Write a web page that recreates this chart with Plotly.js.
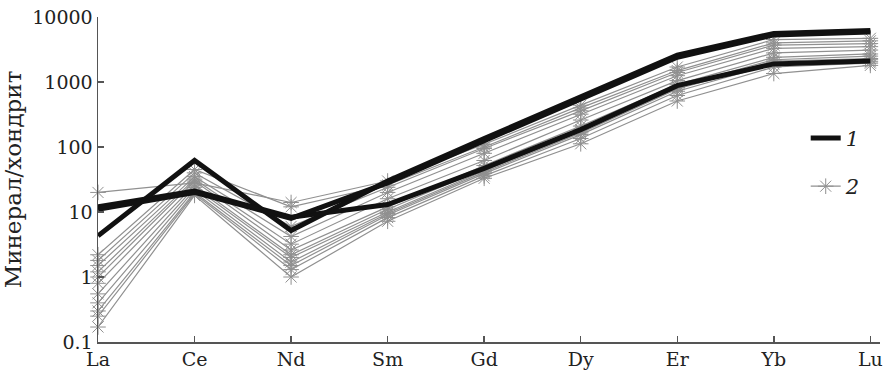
<!DOCTYPE html>
<html>
<head>
<meta charset="utf-8">
<script src="https://cdn.plot.ly/plotly-3.0.1.min.js"></script>
<style>html,body{margin:0;padding:0;background:#fff;}#chart{width:884px;height:378px;}</style>
</head>
<body>
<div id="chart"></div>
<script>
const elements = ["La","Ce","Nd","Sm","Gd","Dy","Er","Yb","Lu"];
const yTickVals = [0.1, 1, 10, 100, 1000, 10000];
const yTickText = ["0.1","1","10","100","1000","10000"];
const yTitle = "Минерал/хондрит";

// Series 1 (black, thick)
const s1_a = [4.3, 62, 5.2, 30, 135, 580, 2600, 5600, 6200];
const s1_b = [12, 21, 8.3, 13, 47, 185, 880, 1900, 2100];
const s1_c = [11, 20, 8, 28, 125, 540, 2400, 5300, 5900];

// Series 2 (gray, asterisk markers)
const s2_01 = [20, 28, 14, 30, 110, 440, 1700, 4500, 4700];
const s2_02 = [2.2, 45, 12, 26, 100, 400, 1500, 4000, 4300];
const s2_03 = [1.8, 40, 6, 24, 95, 360, 1400, 3700, 3900];
const s2_04 = [1.5, 35, 4.2, 20, 80, 320, 1250, 3300, 3500];
const s2_05 = [1.2, 32, 3.2, 16, 62, 260, 1050, 2800, 3100];
const s2_06 = [1.0, 30, 2.6, 12, 52, 210, 920, 2400, 2700];
const s2_07 = [0.8, 26, 2.2, 11, 46, 185, 860, 2200, 2500];
const s2_08 = [0.55, 24, 2.0, 10, 43, 175, 820, 2100, 2300];
const s2_09 = [0.4, 22, 1.7, 9.5, 41, 165, 780, 2000, 2200];
const s2_10 = [0.3, 20, 1.5, 9, 39, 155, 720, 1900, 2050];
const s2_11 = [0.25, 19, 1.3, 8.2, 36, 135, 620, 1700, 1950];
const s2_12 = [0.17, 18, 1.0, 7.2, 33, 112, 510, 1350, 1800];

const series1 = [s1_a, s1_b, s1_c];
const series2 = [s2_01,s2_02,s2_03,s2_04,s2_05,s2_06,s2_07,s2_08,s2_09,s2_10,s2_11,s2_12];

const SERIF = "DejaVu Serif";

const traces = [];
series2.forEach((ys, i) => {
  traces.push({
    x: elements, y: ys, type: "scatter", mode: "lines+markers",
    name: "2", legendgroup: "g2", showlegend: i === 0, legendrank: 2,
    line: {color: "#909090", width: 1.2},
    marker: {symbol: "asterisk-open", size: 13, color: "#909090", line: {color: "#909090", width: 1}},
    cliponaxis: false
  });
});
series1.forEach((ys, i) => {
  traces.push({
    x: elements, y: ys, type: "scatter", mode: "lines",
    name: "1", legendgroup: "g1", showlegend: i === 0, legendrank: 1,
    line: {color: "#111", width: 5},
    cliponaxis: false
  });
});

const layout = {
  width: 884, height: 378,
  margin: {l: 98, r: 4, t: 17, b: 36},
  paper_bgcolor: "#fff", plot_bgcolor: "#fff",
  font: {family: SERIF, size: 19, color: "#222"},
  showlegend: true,
  legend: {
    x: 0.905, y: 0.69, xanchor: "left", yanchor: "top",
    traceorder: "grouped", tracegroupgap: 18,
    font: {family: SERIF, size: 21, style: "italic", color: "#222"},
    bgcolor: "rgba(0,0,0,0)"
  },
  xaxis: {
    type: "category", categoryorder: "array", categoryarray: elements,
    range: [0, 8.1], showgrid: false, zeroline: false,
    showline: true, linecolor: "#555", linewidth: 1.5,
    ticks: "inside", ticklen: 6, tickcolor: "#555", tickwidth: 1.5,
    tickfont: {family: SERIF, size: 19, color: "#222"}
  },
  yaxis: {
    type: "log", range: [-1, 4], showgrid: false, zeroline: false,
    showline: true, linecolor: "#555", linewidth: 1.5,
    ticks: "inside", ticklen: 6, tickcolor: "#555", tickwidth: 1.5,
    tickvals: yTickVals, ticktext: yTickText,
    tickfont: {family: SERIF, size: 19, color: "#222"},
    title: {text: yTitle, font: {family: SERIF, size: 23, color: "#222"}, standoff: 8}
  }
};

Plotly.newPlot("chart", traces, layout, {staticPlot: true, displayModeBar: false});
</script>
</body>
</html>
